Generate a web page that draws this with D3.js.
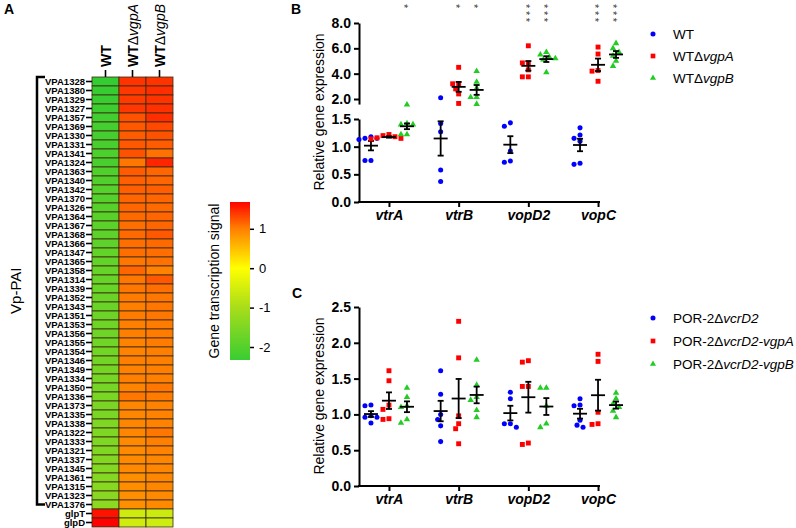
<!DOCTYPE html>
<html>
<head>
<meta charset="utf-8">
<script src="https://cdn.jsdelivr.net/npm/d3@7"></script>
<style>
body{margin:0;background:#fff}
text{font-family:"Liberation Sans",Arial,sans-serif}
</style>
</head>
<body>
<svg width="796" height="528"></svg>
<script>
// ---- panel A data
var heatGenes = ["VPA1328","VPA1380","VPA1329","VPA1327","VPA1357","VPA1369","VPA1330","VPA1331","VPA1341","VPA1324",
  "VPA1363","VPA1340","VPA1342","VPA1370","VPA1326","VPA1364","VPA1367","VPA1368","VPA1366","VPA1347",
  "VPA1365","VPA1358","VPA1314","VPA1339","VPA1352","VPA1343","VPA1351","VPA1353","VPA1356","VPA1355",
  "VPA1354","VPA1346","VPA1349","VPA1334","VPA1350","VPA1336","VPA1373","VPA1335","VPA1338","VPA1322",
  "VPA1333","VPA1321","VPA1337","VPA1345","VPA1361","VPA1315","VPA1323","VPA1376","glpT","glpD"]
var heatCols = ["WT","WTΔvgpA","WTΔvgpB"]
var heatWT = [-2.40,-2.35,-2.32,-2.28,-2.25,-2.2,-2.2,-2.15,-2.1,-2.15,-2.05,-2.05,-2.0,-2.0,-1.98,-1.95,-1.92,-1.9,-1.88,-1.85,
  -1.85,-1.8,-1.8,-1.78,-1.75,-1.75,-1.72,-1.7,-1.7,-1.68,-1.66,-1.65,-1.62,-1.6,-1.6,-1.58,-1.55,-1.55,-1.52,-1.5,
  -1.5,-1.48,-1.46,-1.45,-1.42,-1.4,-1.38,-1.35,1.6,1.7]
var heatVgpA = [1.42,1.40,1.38,1.40,1.25,1.22,1.2,1.22,1.25,1.05,1.2,1.18,1.18,1.15,1.15,1.12,1.1,1.12,1.1,1.1,
  1.05,1.15,1.05,1.05,1.02,1.0,1.02,1.0,1.0,0.98,0.98,1.0,0.98,1.0,0.97,1.05,0.95,0.95,0.95,0.95,
  0.93,0.92,0.92,0.93,0.9,0.9,0.88,0.88,-0.58,-0.55]
var heatVgpB = [1.42,1.45,1.42,1.43,1.45,1.3,1.25,1.2,1.08,1.5,1.15,1.15,1.18,1.15,1.12,1.15,1.15,1.22,1.12,1.1,
  1.08,0.98,1.22,1.1,1.05,1.05,1.05,1.02,1.02,1.02,1.0,1.0,1.0,1.0,1.05,1.02,0.98,0.98,0.98,1.05,
  1.0,0.98,0.95,0.95,0.95,0.95,0.93,0.92,-0.6,-0.57]
var legendTicks = [1,0,-1,-2]

// ---- panels B and C data (one inner array per gene)
var qpcrGenes = ["vtrA","vtrB","vopD2","vopC"]
var bWT   = [[1.15,1.13,1.18,1.15,0.75,0.75],[2.1,1.42,1.27,0.58,0.37],[1.37,1.43,0.92,0.72,0.74],[1.34,1.21,1.15,1.1,0.68,0.70]]
var bVgpA = [[1.20,1.16,1.18,1.15,1.22,1.14],[4.5,3.2,3.2,2.8,2.4,1.65],[6.2,4.85,4.85,3.75,3.75,4.3],[6.1,5.55,4.2,4.25,3.4]]
var bVgpB = [[1.42,1.40,1.40,1.22,1.22,1.55],[4.2,3.35,2.85,2.15,2.15,1.6],[5.7,5.5,5.3,5.1,5.2,4.1],[6.4,6.0,5.7,5.4,5.0,4.6]]
var bStars = [["","","*"],["","*","*"],["","***","***"],["","***","***"]]
var bLegend = [[["WT",""]],[["WT",""],["Δ",""],["vgpA","i"]],[["WT",""],["Δ",""],["vgpB","i"]]]

var cWT   = [[1.13,1.12,0.96,0.96,0.98,0.88],[1.61,1.28,1.0,0.93,0.84,0.62],[1.31,1.22,0.87,0.87,0.82],[1.22,1.13,1.12,0.85,0.92,0.82]]
var cVgpA = [[1.61,1.47,1.13,1.07,0.93,0.94],[2.3,1.79,0.98,0.87,0.80,0.59],[1.73,1.75,1.39,1.39,0.58,0.60],[1.84,1.74,1.03,0.87,0.86]]
var cVgpB = [[1.37,1.24,1.12,1.10,0.88,0.93],[1.76,1.41,1.24,1.06,0.96,1.2],[1.37,1.37,1.12,0.87,0.82],[1.3,1.22,1.15,1.1,1.05,0.96]]
var cLegend = [[["POR-2Δ",""],["vcrD2","i"]],[["POR-2Δ",""],["vcrD2-vgpA","i"]],[["POR-2Δ",""],["vcrD2-vgpB","i"]]]

var ticksBHigh = [2,4,6,8], ticksBLow = [0,0.5,1,1.5], ticksC = [0,0.5,1,1.5,2,2.5]

var svg = d3.select("svg")

// ================= panel A: heatmap
svg.append("text").attr("x",4).attr("y",14).attr("font-size",14).attr("font-weight","bold").text("A")

var color = d3.scaleLinear()
  .domain([-2.4,-1,0,1,1.7])
  .range(["#33cc33","#a8dd1a","#ffff00","#ff8000","#ff0000"])
  .clamp(true)

var hx = d3.scaleBand().domain(heatCols).range([92,173])
var hy = d3.scaleBand().domain(heatGenes).range([77,527])
var heatVals = [heatWT, heatVgpA, heatVgpB]

var cells = []
heatGenes.forEach(function(g,i){
  heatCols.forEach(function(c,j){ cells.push({gene:g,col:c,v:heatVals[j][i]}) })
})

svg.append("g").selectAll("rect")
  .data(cells)
  .enter()
  .append("rect")
  .attr("x",function(d){return hx(d.col)})
  .attr("y",function(d){return hy(d.gene)})
  .attr("width",hx.bandwidth())
  .attr("height",hy.bandwidth())
  .attr("fill",function(d){return color(d.v)})
  .attr("stroke","#3a2a10")
  .attr("stroke-width",0.8)

var rowAxis = svg.append("g")
  .attr("transform","translate(92,0)")
  .call(d3.axisLeft(hy).tickSize(6).tickPadding(1))
rowAxis.select(".domain").remove()
rowAxis.selectAll("line").attr("stroke-width",1.6)
rowAxis.selectAll("text")
  .style("font-family","'Liberation Sans Narrow','Liberation Sans',Arial")
  .attr("font-size",9.5).attr("font-weight","bold").attr("fill","#000")

var colAxis = svg.append("g")
  .attr("transform","translate(0,77)")
  .call(d3.axisTop(hx).tickSize(7).tickFormat(""))
colAxis.select(".domain").remove()
colAxis.selectAll("line").attr("stroke-width",1.6)

heatCols.forEach(function(c){
  var t = svg.append("text")
    .attr("transform","translate(" + (hx(c) + hx.bandwidth()/2 + 5) + ",67) rotate(-90)")
    .attr("font-size",14)
  t.append("tspan").attr("font-weight","bold").text("WT")
  if (c.length > 2) {
    t.append("tspan").text("Δ")
    t.append("tspan").attr("font-style","italic").text(c.slice(3))
  }
})

// Vp-PAI bracket
var yTop = hy(heatGenes[0]), yBot = hy("VPA1376") + hy.bandwidth()/2
svg.append("path")
  .attr("d","M45," + yTop + "H37V" + yBot + "H45")
  .attr("fill","none").attr("stroke","#000").attr("stroke-width",2.5)
svg.append("text")
  .attr("transform","translate(21," + ((yTop+yBot)/2) + ") rotate(-90)")
  .attr("text-anchor","middle").attr("font-size",15).text("Vp-PAI")

// colour legend
var lg = d3.scaleLinear().domain([-2.33,1.68]).range([360,202])
var grad = svg.append("defs").append("linearGradient")
  .attr("id","heatgrad").attr("x1",0).attr("y1",0).attr("x2",0).attr("y2",1)
var stopVals = [1.68].concat(color.domain().slice().reverse().filter(function(v){return v < 1.68 && v > -2.33})).concat([-2.33])
stopVals.forEach(function(v){
  grad.append("stop")
    .attr("offset",((lg(v) - 202) / 158 * 100) + "%")
    .attr("stop-color",color(v))
})
svg.append("rect").attr("x",230).attr("y",202).attr("width",20).attr("height",158).attr("fill","url(#heatgrad)")
var lgAxis = svg.append("g")
  .attr("transform","translate(250,0)")
  .call(d3.axisRight(lg).tickValues(legendTicks).tickSize(4).tickPadding(5).tickFormat(function(d){return String(d)}))
lgAxis.select(".domain").remove()
lgAxis.selectAll("line").attr("stroke-width",1.5)
lgAxis.selectAll("text").attr("font-size",13).style("font-family","'Liberation Sans',Arial")
svg.append("text")
  .attr("transform","translate(219,281) rotate(-90)")
  .attr("text-anchor","middle").attr("font-size",14).text("Gene transcription signal")

// ================= helpers for the dot plots
// compact swarm: each point goes to the offset nearest the centre that does not collide
function swarm(ys, diam, step){
  var idx = ys.map(function(d,i){return i}).sort(function(a,b){return ys[a]-ys[b]})
  var placed = [], offs = ys.map(function(){return 0})
  idx.forEach(function(i){
    var cands = [0]
    for (var k=1;k<8;k++){ cands.push(-k*step); cands.push(k*step) }
    for (var c=0;c<cands.length;c++){
      var ok = placed.every(function(p){
        var dx = p.x - cands[c], dy = p.y - ys[i]
        return Math.sqrt(dx*dx + dy*dy) >= diam
      })
      if (ok){ offs[i] = cands[c]; break }
    }
    placed.push({x:offs[i], y:ys[i]})
  })
  return offs
}

function drawSeries(g, xs, yf, series){
  series.forEach(function(s){
    s.vals.forEach(function(vals, ci){
      var cx = xs(qpcrGenes[ci]) + s.off
      var ys = vals.map(yf)
      var offs = swarm(ys, 5.5, 3)
      g.append("g").selectAll("path")
        .data(vals)
        .enter()
        .append("path")
        .attr("d", d3.symbol().type(s.sym).size(s.size))
        .attr("transform", function(d,i){return "translate(" + (cx + offs[i]) + "," + ys[i] + ")"})
        .attr("fill", s.color)
      var m = d3.mean(vals), se = d3.deviation(vals) / Math.sqrt(vals.length)
      var y0 = yf(m - se), y1 = yf(m + se), ym = yf(m)
      var eb = g.append("g").attr("stroke","#000").attr("stroke-width",1.8)
      eb.append("line").attr("x1",cx).attr("x2",cx).attr("y1",y0).attr("y2",y1)
      eb.append("line").attr("x1",cx-3).attr("x2",cx+3).attr("y1",y0).attr("y2",y0)
      eb.append("line").attr("x1",cx-3).attr("x2",cx+3).attr("y1",y1).attr("y2",y1)
      eb.append("line").attr("x1",cx-7).attr("x2",cx+7).attr("y1",ym).attr("y2",ym)
    })
  })
}

function styleAxis(ax){
  ax.selectAll("path,line").attr("stroke-width",2)
  ax.selectAll("text").attr("font-size",14).attr("font-weight","bold").attr("fill","#000")
}

function drawXAxis(y, xs, x0, x1){
  var ax = svg.append("g").attr("transform","translate(0," + y + ")")
    .call(d3.axisBottom(xs).tickSize(5).tickPadding(3))
  ax.select(".domain").remove()
  styleAxis(ax)
  ax.selectAll("text").attr("font-style","italic")
  svg.append("line").attr("x1",x0-1).attr("x2",x1).attr("y1",y).attr("y2",y)
    .attr("stroke","#000").attr("stroke-width",2)
}

function drawLegend(items, x, y0, dy){
  var syms = [[d3.symbolCircle,"#0000ff",20],[d3.symbolSquare,"#ff0000",22],[d3.symbolTriangle,"#22cc22",16]]
  items.forEach(function(parts,i){
    var y = y0 + i*dy
    svg.append("path").attr("d",d3.symbol().type(syms[i][0]).size(syms[i][2]))
      .attr("transform","translate(" + x + "," + y + ")").attr("fill",syms[i][1])
    var t = svg.append("text").attr("x",x+20).attr("y",y+5).attr("font-size",13.5)
    parts.forEach(function(p){
      t.append("tspan").attr("font-style",p[1]=="i" ? "italic" : null).text(p[0])
    })
  })
}

var xB = d3.scalePoint().domain(qpcrGenes).range([359,628]).padding(0.43)

// ================= panel B
svg.append("text").attr("x",291).attr("y",14).attr("font-size",14).attr("font-weight","bold").text("B")

var yLow = d3.scaleLinear().domain([0,1.5]).range([202,119])
var yHigh = d3.scaleLinear().domain([2,8]).range([99,23])
var yHighAx = d3.scaleLinear().domain([1.6,8]).range([yHigh(1.6),23])
function yB(v){ return v > 1.5 ? yHigh(v) : yLow(v) }

var axHigh = svg.append("g").attr("transform","translate(359,0)")
  .call(d3.axisLeft(yHighAx).tickValues(ticksBHigh).tickSize(5).tickSizeOuter(0).tickPadding(3).tickFormat(d3.format(".1f")))
styleAxis(axHigh)
var axLow = svg.append("g").attr("transform","translate(359,0)")
  .call(d3.axisLeft(yLow).tickValues(ticksBLow).tickSize(5).tickSizeOuter(0).tickPadding(3).tickFormat(d3.format(".1f")))
styleAxis(axLow)
drawXAxis(202, xB, 359, 600)

svg.append("text")
  .attr("transform","translate(324,112) rotate(-90)")
  .attr("text-anchor","middle").attr("font-size",14).text("Relative gene expression")

var gB = svg.append("g")
drawSeries(gB, xB, yB, [
  {vals:bWT, off:-18, sym:d3.symbolCircle, size:20, color:"#0000ff"},
  {vals:bVgpA, off:0, sym:d3.symbolSquare, size:24, color:"#ff0000"},
  {vals:bVgpB, off:18, sym:d3.symbolTriangle, size:18, color:"#22cc22"}
])

// significance stars, stacked vertically as one rotated string
bStars.forEach(function(row, ci){
  row.forEach(function(s, j){
    if (!s) return
    svg.append("text")
      .attr("transform","translate(" + (xB(qpcrGenes[ci]) + (j-1)*18) + ",4) rotate(90)")
      .attr("dy","0.6em")
      .attr("text-anchor","start").attr("font-size",11).attr("fill","#333")
      .attr("letter-spacing",2.6)
      .text(s)
  })
})

drawLegend(bLegend, 653, 34, 22)

// ================= panel C
svg.append("text").attr("x",292).attr("y",298).attr("font-size",14).attr("font-weight","bold").text("C")

var yC = d3.scaleLinear().domain([0,2.5]).range([486,307])
var axC = svg.append("g").attr("transform","translate(359,0)")
  .call(d3.axisLeft(yC).tickValues(ticksC).tickSize(5).tickSizeOuter(0).tickPadding(3).tickFormat(d3.format(".1f")))
styleAxis(axC)
drawXAxis(486, xB, 359, 600)

svg.append("text")
  .attr("transform","translate(324,396) rotate(-90)")
  .attr("text-anchor","middle").attr("font-size",14).text("Relative gene expression")

var gC = svg.append("g")
drawSeries(gC, xB, yC, [
  {vals:cWT, off:-18, sym:d3.symbolCircle, size:20, color:"#0000ff"},
  {vals:cVgpA, off:0, sym:d3.symbolSquare, size:24, color:"#ff0000"},
  {vals:cVgpB, off:18, sym:d3.symbolTriangle, size:18, color:"#22cc22"}
])

drawLegend(cLegend, 653, 318, 23)
</script>
</body>
</html>
